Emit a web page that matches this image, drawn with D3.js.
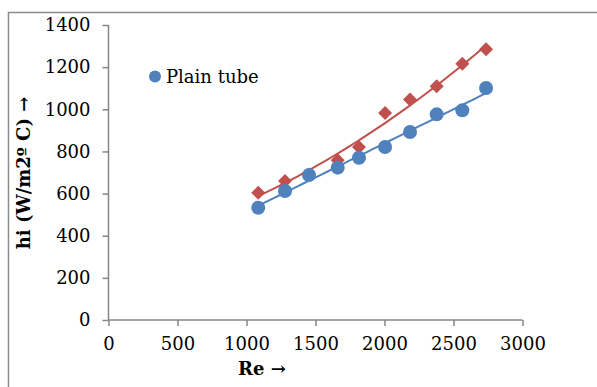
<!DOCTYPE html>
<html>
<head>
<meta charset="utf-8">
<script src="https://cdn.jsdelivr.net/npm/d3@7"></script>
<style>
  body { margin: 0; background: #fff; }
  svg { display: block; font-family: "DejaVu Serif", serif; }
  .axis path, .axis line { stroke: #868686; stroke-width: 1.5; }
  .axis text { font-size: 18px; fill: #000; font-family: "DejaVu Serif", serif; }
</style>
</head>
<body>
<svg id="chart" width="597" height="387"></svg>
<script>
// Reynolds number (x) and heat transfer coefficient hi (y)
const reValues = [1085, 1279, 1453, 1661, 1815, 2004, 2185, 2378, 2564, 2736];
const plainTube = [533, 612, 688, 723, 770, 821, 892, 976, 995, 1101];
const secondSeries = [604, 660, 691, 758, 821, 982, 1046, 1109, 1216, 1285];
const xTicks = [0, 500, 1000, 1500, 2000, 2500, 3000];
const yTicks = [0, 200, 400, 600, 800, 1000, 1200, 1400];

const blue = '#4f81bd', red = '#c0504d';

const svg = d3.select('#chart');
const margin = { top: 25, left: 108.5 };
const plotW = 414, plotH = 295;

// outer chart frame (right and bottom edges are cropped off)
svg.append('path')
  .attr('d', 'M8.5,400 V12.5 H620')
  .attr('fill', 'none')
  .attr('stroke', '#8c8c8c')
  .attr('stroke-width', 1.5);

const x = d3.scaleLinear().domain([0, 3000]).range([margin.left, margin.left + plotW]);
const y = d3.scaleLinear().domain([0, 1400]).range([margin.top + plotH, margin.top]);

// Axes
svg.append('g').attr('class', 'axis')
  .attr('transform', `translate(0, ${y(0)})`)
  .call(d3.axisBottom(x).tickValues(xTicks).tickFormat(d3.format('d')).tickSize(6).tickPadding(11).tickSizeOuter(0))
  .call(g => g.select('.domain').attr('d', `M${x(0)},0H${x(3000)}`));

svg.append('g').attr('class', 'axis')
  .attr('transform', `translate(${x(0)}, 0)`)
  .call(d3.axisLeft(y).tickValues(yTicks).tickFormat(d3.format('d')).tickSize(6).tickPadding(12).tickSizeOuter(0))
  .call(g => g.select('.domain').attr('d', `M0,${y(0)}V${y(1400)}`));

// least squares polynomial fit (trendlines)
function polyFit(xs, ys, deg) {
  const n = deg + 1;
  const A = Array.from({ length: n }, () => new Array(n + 1).fill(0));
  xs.forEach((xv, k) => {
    for (let i = 0; i < n; i++) {
      for (let j = 0; j < n; j++) A[i][j] += Math.pow(xv, i + j);
      A[i][n] += ys[k] * Math.pow(xv, i);
    }
  });
  for (let i = 0; i < n; i++) {
    let p = i;
    for (let r = i + 1; r < n; r++) if (Math.abs(A[r][i]) > Math.abs(A[p][i])) p = r;
    [A[i], A[p]] = [A[p], A[i]];
    for (let r = 0; r < n; r++) {
      if (r === i) continue;
      const f = A[r][i] / A[i][i];
      for (let c = i; c <= n; c++) A[r][c] -= f * A[i][c];
    }
  }
  const coef = A.map((row, i) => row[n] / row[i]);
  return xv => coef.reduce((s, c, i) => s + c * Math.pow(xv, i), 0);
}

const line = d3.line().x(d => x(d[0])).y(d => y(d[1]));
const xMin = d3.min(reValues), xMax = d3.max(reValues);
const samples = d3.range(0, 41).map(i => xMin + (xMax - xMin) * i / 40);

const blueFit = polyFit(reValues, plainTube, 1);
const redFit = polyFit(reValues, secondSeries, 2);

svg.append('path')
  .datum(samples.map(s => [s, blueFit(s)]))
  .attr('fill', 'none').attr('stroke', blue).attr('stroke-width', 2)
  .attr('d', line);

svg.append('path')
  .datum(samples.map(s => [s, redFit(s)]))
  .attr('fill', 'none').attr('stroke', red).attr('stroke-width', 2)
  .attr('d', line);

// markers
svg.append('g').selectAll('path')
  .data(reValues.map((r, i) => [r, secondSeries[i]]))
  .join('path')
  .attr('transform', d => `translate(${x(d[0])},${y(d[1])})`)
  .attr('d', 'M0,-7L7,0L0,7L-7,0Z')
  .attr('fill', red);

svg.append('g').selectAll('circle')
  .data(reValues.map((r, i) => [r, plainTube[i]]))
  .join('circle')
  .attr('cx', d => x(d[0]))
  .attr('cy', d => y(d[1]))
  .attr('r', 7)
  .attr('fill', blue);

// legend
svg.append('circle').attr('cx', 155).attr('cy', 76.5).attr('r', 6).attr('fill', blue);
svg.append('text').attr('x', 166).attr('y', 83)
  .attr('font-size', '18px').text('Plain tube');

// axis titles
svg.append('text')
  .attr('x', 262).attr('y', 375)
  .attr('text-anchor', 'middle')
  .attr('font-size', '18px').attr('font-weight', 'bold')
  .text('Re →');

svg.append('text')
  .attr('transform', 'translate(30,173) rotate(-90)')
  .attr('text-anchor', 'middle')
  .attr('font-size', '18px').attr('font-weight', 'bold')
  .text('hi (W/m2º C) →');
</script>
</body>
</html>
